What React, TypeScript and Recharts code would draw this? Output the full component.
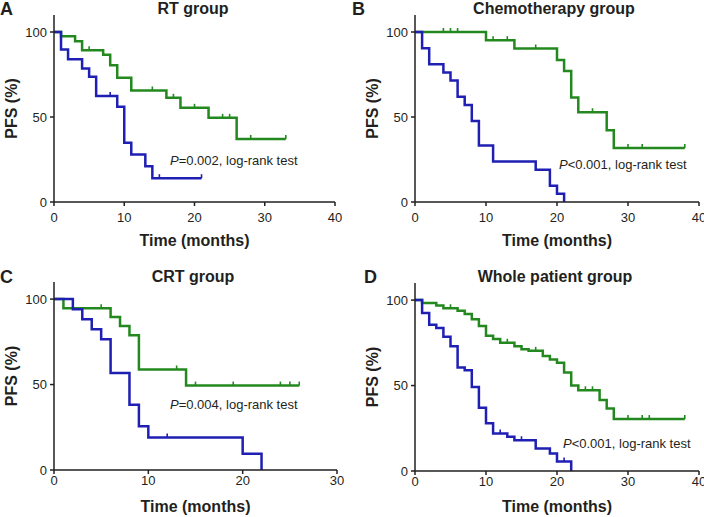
import React from 'react';
import { LineChart, Line, XAxis, YAxis } from 'recharts';

const GREEN = '#23891f';
const BLUE = '#1f1fb4';
const INK = '#231f20';
const FONT = '"Liberation Sans", Arial, sans-serif';

type Pt = { t: number; s: number; c?: boolean };

// RT group
const rtGreen: Pt[] = [
  { t: 0, s: 100 }, { t: 1, s: 97.5 }, { t: 3, s: 94.6 }, { t: 4, s: 89.2 }, { t: 5, s: 89.2, c: true },
  { t: 7, s: 86.6 }, { t: 8, s: 80.5 }, { t: 9, s: 73.1 }, { t: 11, s: 65.6 }, { t: 14, s: 65.6, c: true },
  { t: 16, s: 61.3 }, { t: 17, s: 61.3, c: true }, { t: 18, s: 55.4 }, { t: 20, s: 55.4, c: true },
  { t: 22, s: 49.5 }, { t: 24, s: 49.5, c: true }, { t: 25, s: 49.5, c: true }, { t: 26, s: 37.1 },
  { t: 28, s: 37.1, c: true }, { t: 33, s: 37.1, c: true },
];
const rtBlue: Pt[] = [
  { t: 0, s: 100 }, { t: 1, s: 89.7 }, { t: 2, s: 83.9 }, { t: 4, s: 78.6 }, { t: 5, s: 73.7 },
  { t: 6, s: 62.4 }, { t: 8, s: 62.4, c: true }, { t: 9, s: 56 }, { t: 10, s: 34.9 }, { t: 11, s: 28 },
  { t: 13, s: 21 }, { t: 14, s: 14 }, { t: 15, s: 14, c: true }, { t: 21, s: 14, c: true },
];

// Chemotherapy group
const chemoGreen: Pt[] = [
  { t: 0, s: 100 }, { t: 4, s: 100, c: true }, { t: 5, s: 100, c: true }, { t: 6, s: 100, c: true },
  { t: 10, s: 95.2 }, { t: 11, s: 95.2, c: true }, { t: 13, s: 95.2, c: true }, { t: 14, s: 90.3 },
  { t: 17, s: 90.3, c: true }, { t: 20, s: 83.6 }, { t: 21, s: 77 }, { t: 22, s: 61.5 }, { t: 23, s: 52.8 },
  { t: 25, s: 52.8, c: true }, { t: 27, s: 42.2 }, { t: 28, s: 31.7 }, { t: 30, s: 31.7, c: true },
  { t: 32, s: 31.7, c: true }, { t: 38, s: 31.7, c: true },
];
const chemoBlue: Pt[] = [
  { t: 0, s: 100 }, { t: 1, s: 90.5 }, { t: 2, s: 81 }, { t: 4, s: 76.2 }, { t: 5, s: 71.4 },
  { t: 6, s: 61.9 }, { t: 7, s: 57.1 }, { t: 8, s: 47.6 }, { t: 9, s: 33.3 }, { t: 11, s: 23.8 },
  { t: 17, s: 19 }, { t: 19, s: 9.5 }, { t: 20, s: 4.8 }, { t: 21, s: 0 },
];

// CRT group
const crtGreen: Pt[] = [
  { t: 0, s: 100 }, { t: 1, s: 94.7 }, { t: 5, s: 94.7, c: true }, { t: 6, s: 89.5 }, { t: 7, s: 84.2 },
  { t: 8, s: 78.9 }, { t: 9, s: 58.8 }, { t: 13, s: 58.8, c: true }, { t: 14, s: 49.4 },
  { t: 15, s: 49.4, c: true }, { t: 19, s: 49.4, c: true }, { t: 24, s: 49.4, c: true },
  { t: 25, s: 49.4, c: true }, { t: 26, s: 49.4, c: true },
];
const crtBlue: Pt[] = [
  { t: 0, s: 100 }, { t: 2, s: 94.1 }, { t: 3, s: 88.2 }, { t: 4, s: 82.4 }, { t: 5, s: 76.5 },
  { t: 6, s: 56.8 }, { t: 8, s: 38.2 }, { t: 9, s: 25.6 }, { t: 10, s: 19 }, { t: 12, s: 19, c: true },
  { t: 20, s: 9.5 }, { t: 22, s: 0 },
];

// Whole patient group
const wholeGreen: Pt[] = [
  { t: 0, s: 100 }, { t: 1, s: 98.3 }, { t: 3, s: 96.8 }, { t: 4, s: 95.2 }, { t: 5, s: 95.2, c: true },
  { t: 6, s: 93.8 }, { t: 7, s: 91.8 }, { t: 8, s: 88.8 }, { t: 9, s: 84.8 }, { t: 10, s: 79.2 },
  { t: 11, s: 77.2 }, { t: 12, s: 75 }, { t: 13, s: 75, c: true }, { t: 14, s: 73 }, { t: 15, s: 71.3 },
  { t: 16, s: 70.3 }, { t: 17, s: 70.3, c: true }, { t: 18, s: 67.3 }, { t: 19, s: 65.3 }, { t: 20, s: 63.4 },
  { t: 21, s: 57.6 }, { t: 22, s: 50 }, { t: 23, s: 47.2 }, { t: 24, s: 47.2, c: true },
  { t: 25, s: 47.2, c: true }, { t: 26, s: 41.5 }, { t: 27, s: 36.6 }, { t: 28, s: 30.4 },
  { t: 30, s: 30.4, c: true }, { t: 32, s: 30.4, c: true }, { t: 33, s: 30.4, c: true }, { t: 38, s: 30.4, c: true },
];
const wholeBlue: Pt[] = [
  { t: 0, s: 100 }, { t: 1, s: 92.5 }, { t: 2, s: 85.6 }, { t: 3, s: 83.7 }, { t: 4, s: 78.5 },
  { t: 5, s: 73 }, { t: 6, s: 60.5 }, { t: 7, s: 59 }, { t: 8, s: 49.2 }, { t: 9, s: 37 }, { t: 10, s: 28 },
  { t: 11, s: 22 }, { t: 12, s: 22, c: true }, { t: 13, s: 20 }, { t: 14, s: 18 }, { t: 15, s: 18, c: true },
  { t: 17, s: 13.2 }, { t: 19, s: 10.3 }, { t: 20, s: 5.5 }, { t: 21, s: 5.5, c: true }, { t: 22, s: 0 },
];

const yTicks = [0, 50, 100];
const xTicks40 = [0, 10, 20, 30, 40];
const xTicks30 = [0, 10, 20, 30];

const censorDot = (color: string) => (props: any) => {
  const { cx, cy, payload, index } = props;
  if (!payload || !payload.c) return <g key={`n-${index}`} />;
  return <line key={`c-${index}`} x1={cx} y1={cy} x2={cx} y2={cy - 4} stroke={color} strokeWidth={1.6} />;
};

type PanelProps = {
  left: number;
  top: number;
  height: number;
  margin: { top: number; right: number; left: number; bottom: number };
  yWidth: number;
  xHeight: number;
  xMax: number;
  xTicks: number[];
  xTickMargin: number;
  xLabelOffset: number;
  yLabelOffset: number;
  good: Pt[];
  poor: Pt[];
};

function Panel(p: PanelProps) {
  const axisLine = { stroke: INK, strokeWidth: 1.5 };
  const tick = { fontSize: 13, fill: INK, fontFamily: FONT };
  return (
    <div style={{ position: 'absolute', left: p.left, top: p.top }}>
      <LineChart width={352} height={p.height} margin={p.margin}>
        <XAxis
          type="number"
          dataKey="t"
          domain={[0, p.xMax]}
          ticks={p.xTicks}
          height={p.xHeight}
          axisLine={axisLine}
          tickLine={axisLine}
          tickSize={4}
          tickMargin={p.xTickMargin}
          tick={tick}
          interval={0}
          label={{
            value: 'Time (months)',
            position: 'insideBottom',
            offset: p.xLabelOffset,
            fontSize: 16,
            fontWeight: 'bold',
            fill: INK,
            fontFamily: FONT,
          }}
        />
        <YAxis
          type="number"
          domain={[0, 110]}
          ticks={yTicks}
          width={p.yWidth}
          axisLine={axisLine}
          tickLine={axisLine}
          tickSize={4}
          tickMargin={3}
          tick={tick}
          interval={0}
          label={{
            value: 'PFS (%)',
            angle: -90,
            position: 'insideLeft',
            offset: p.yLabelOffset,
            style: { textAnchor: 'middle' },
            fontSize: 16,
            fontWeight: 'bold',
            fill: INK,
            fontFamily: FONT,
          }}
        />
        <Line
          data={p.good}
          dataKey="s"
          type="stepAfter"
          stroke={GREEN}
          strokeWidth={2.5}
          dot={censorDot(GREEN)}
          activeDot={false}
          isAnimationActive={false}
        />
        <Line
          data={p.poor}
          dataKey="s"
          type="stepAfter"
          stroke={BLUE}
          strokeWidth={2.5}
          dot={censorDot(BLUE)}
          activeDot={false}
          isAnimationActive={false}
        />
      </LineChart>
    </div>
  );
}

function Title({ x, top, text }: { x: number; top: number; text: string }) {
  return (
    <div
      style={{
        position: 'absolute',
        left: x - 150,
        top,
        width: 300,
        textAlign: 'center',
        fontSize: 16,
        lineHeight: '16px',
        fontWeight: 'bold',
        color: INK,
        whiteSpace: 'nowrap',
      }}
    >
      {text}
    </div>
  );
}

function Letter({ x, top, text }: { x: number; top: number; text: string }) {
  return (
    <div style={{ position: 'absolute', left: x, top, fontSize: 18, lineHeight: '18px', fontWeight: 'bold', color: INK }}>
      {text}
    </div>
  );
}

function PValue({ x, top, sign, value }: { x: number; top: number; sign: string; value: string }) {
  return (
    <div
      style={{ position: 'absolute', left: x, top, fontSize: 13, lineHeight: '13px', color: INK, whiteSpace: 'nowrap' }}
    >
      <span style={{ fontStyle: 'italic' }}>P</span>
      {sign}
      {value}, log-rank test
    </div>
  );
}

export default function App() {
  return (
    <div
      style={{
        position: 'absolute',
        left: 0,
        top: 0,
        width: 704,
        height: 517,
        background: '#fff',
        overflow: 'hidden',
        fontFamily: FONT,
      }}
    >
      <Panel
        left={0}
        top={0}
        height={258}
        margin={{ top: 15, right: 17, left: 0, bottom: 0 }}
        yWidth={54}
        xHeight={56}
        xMax={40}
        xTicks={xTicks40}
        xTickMargin={7}
        xLabelOffset={12}
        yLabelOffset={11}
        good={rtGreen}
        poor={rtBlue}
      />
      <Panel
        left={352}
        top={0}
        height={258}
        margin={{ top: 15, right: 5, left: 0, bottom: 0 }}
        yWidth={63}
        xHeight={56}
        xMax={40}
        xTicks={xTicks40}
        xTickMargin={7}
        xLabelOffset={12}
        yLabelOffset={20}
        good={chemoGreen}
        poor={chemoBlue}
      />
      <Panel
        left={0}
        top={258}
        height={259}
        margin={{ top: 24, right: 15, left: 0, bottom: 0 }}
        yWidth={54}
        xHeight={47}
        xMax={30}
        xTicks={xTicks30}
        xTickMargin={2}
        xLabelOffset={5}
        yLabelOffset={11}
        good={crtGreen}
        poor={crtBlue}
      />
      <Panel
        left={352}
        top={258}
        height={259}
        margin={{ top: 25, right: 5, left: 0, bottom: 0 }}
        yWidth={63}
        xHeight={46}
        xMax={40}
        xTicks={xTicks40}
        xTickMargin={2}
        xLabelOffset={5}
        yLabelOffset={20}
        good={wholeGreen}
        poor={wholeBlue}
      />

      <Letter x={0} top={0} text="A" />
      <Letter x={352} top={0} text="B" />
      <Letter x={0} top={268} text="C" />
      <Letter x={364} top={268} text="D" />

      <Title x={193} top={1} text="RT group" />
      <Title x={554} top={1} text="Chemotherapy group" />
      <Title x={193} top={269} text="CRT group" />
      <Title x={555} top={269} text="Whole patient group" />

      <PValue x={170} top={154} sign="=" value="0.002" />
      <PValue x={559} top={158} sign="<" value="0.001" />
      <PValue x={170} top={398} sign="=" value="0.004" />
      <PValue x={563} top={437} sign="<" value="0.001" />
    </div>
  );
}
